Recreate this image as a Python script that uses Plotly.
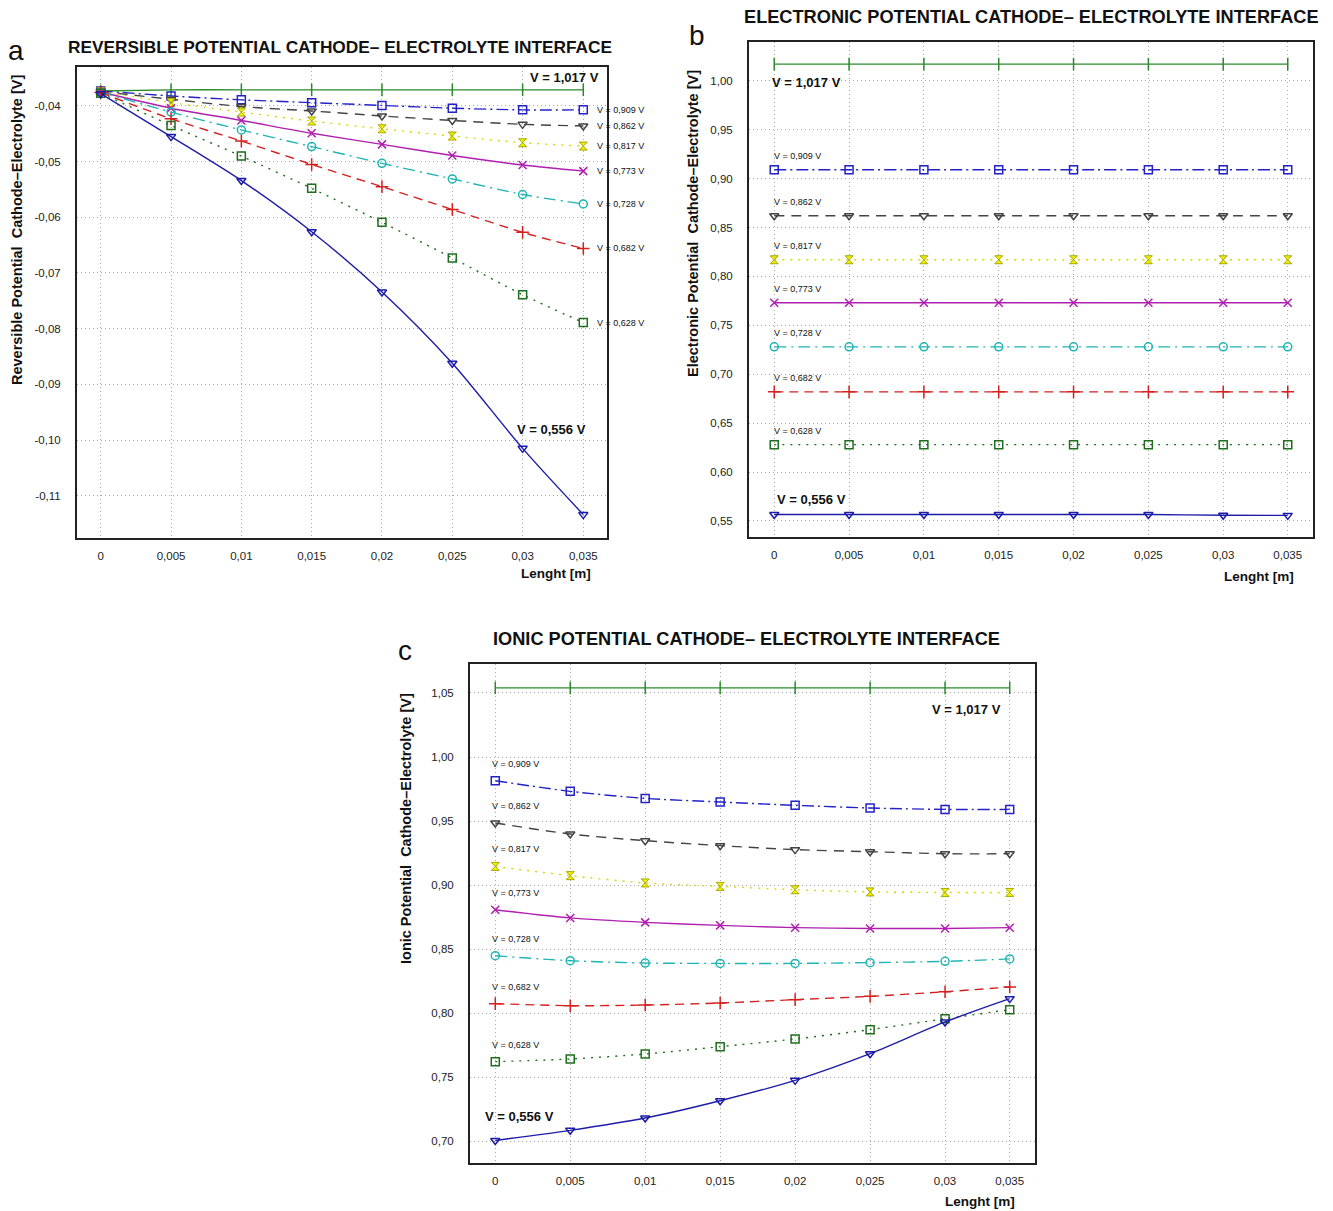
import plotly.graph_objects as go

# ---------------- data ----------------
X = [0, 0.0051, 0.0102, 0.0153, 0.0204, 0.0255, 0.0306, 0.035]
X_TICKTEXT = ["0", "0,005", "0,01", "0,015", "0,02", "0,025", "0,03", "0,035"]

SERIES_V = ["1,017", "0,909", "0,862", "0,817", "0,773", "0,728", "0,682", "0,628", "0,556"]

# (a) reversible potential
rev_1017 = [-0.0373, -0.0371, -0.0371, -0.0371, -0.0371, -0.0371, -0.0371, -0.0371]
rev_0909 = [-0.0373, -0.0382, -0.0389, -0.0394, -0.0399, -0.0404, -0.0407, -0.0407]
rev_0862 = [-0.0374, -0.0388, -0.0401, -0.0409, -0.0418, -0.0426, -0.0433, -0.0436]
rev_0817 = [-0.0374, -0.0394, -0.0411, -0.0427, -0.0441, -0.0454, -0.0466, -0.0472]
rev_0773 = [-0.0375, -0.0404, -0.0426, -0.0449, -0.0469, -0.0489, -0.0506, -0.0517]
rev_0728 = [-0.0375, -0.0411, -0.0443, -0.0473, -0.0503, -0.0531, -0.0559, -0.0576]
rev_0682 = [-0.0376, -0.0423, -0.0463, -0.0505, -0.0545, -0.0586, -0.0627, -0.0656]
rev_0628 = [-0.0377, -0.0435, -0.0490, -0.0548, -0.0609, -0.0673, -0.0739, -0.0789]
rev_0556 = [-0.0378, -0.0455, -0.0534, -0.0626, -0.0734, -0.0862, -0.1015, -0.1134]

# (b) electronic potential
ele_1017 = [1.017] * 8
ele_0909 = [0.909] * 8
ele_0862 = [0.862] * 8
ele_0817 = [0.817] * 8
ele_0773 = [0.773] * 8
ele_0728 = [0.728] * 8
ele_0682 = [0.682] * 8
ele_0628 = [0.628] * 8
ele_0556 = [0.5566, 0.5566, 0.5566, 0.5566, 0.5566, 0.5566, 0.5558, 0.5557]

# (c) ionic potential
ion_1017 = [1.054] * 8
ion_0909 = [0.9815, 0.9732, 0.9677, 0.9649, 0.9623, 0.9602, 0.9591, 0.9591]
ion_0862 = [0.9485, 0.9399, 0.9347, 0.9308, 0.9277, 0.9261, 0.9245, 0.9245]
ion_0817 = [0.9146, 0.9074, 0.9017, 0.8990, 0.8964, 0.8947, 0.8943, 0.8943]
ion_0773 = [0.8808, 0.8744, 0.8709, 0.8686, 0.8668, 0.8662, 0.8662, 0.8668]
ion_0728 = [0.8449, 0.8410, 0.8392, 0.8389, 0.8389, 0.8395, 0.8405, 0.8424]
ion_0682 = [0.8075, 0.8059, 0.8064, 0.8080, 0.8106, 0.8132, 0.8168, 0.8205]
ion_0628 = [0.7622, 0.7643, 0.7682, 0.7739, 0.7799, 0.7872, 0.7957, 0.8028]
ion_0556 = [0.7007, 0.7086, 0.7182, 0.7317, 0.7476, 0.7684, 0.7932, 0.8114]

REV = [rev_1017, rev_0909, rev_0862, rev_0817, rev_0773, rev_0728, rev_0682, rev_0628, rev_0556]
ELE = [ele_1017, ele_0909, ele_0862, ele_0817, ele_0773, ele_0728, ele_0682, ele_0628, ele_0556]
ION = [ion_1017, ion_0909, ion_0862, ion_0817, ion_0773, ion_0728, ion_0682, ion_0628, ion_0556]

Y_A_TICKS = [-0.04, -0.05, -0.06, -0.07, -0.08, -0.09, -0.10, -0.11]
Y_A_TEXT = ["-0,04", "-0,05", "-0,06", "-0,07", "-0,08", "-0,09", "-0,10", "-0,11"]
Y_B_TICKS = [0.55, 0.60, 0.65, 0.70, 0.75, 0.80, 0.85, 0.90, 0.95, 1.00]
Y_B_TEXT = ["0,55", "0,60", "0,65", "0,70", "0,75", "0,80", "0,85", "0,90", "0,95", "1,00"]
Y_C_TICKS = [0.70, 0.75, 0.80, 0.85, 0.90, 0.95, 1.00, 1.05]
Y_C_TEXT = ["0,70", "0,75", "0,80", "0,85", "0,90", "0,95", "1,00", "1,05"]

# ---------------- styles ----------------
STYLES = [
    dict(color="#2b8a2b", dash="solid", symbol="line-ns-open", msize=9),
    dict(color="#2222c8", dash="12px,4px,2px,4px", symbol="square-open", msize=8),
    dict(color="#444444", dash="10px,7px", symbol="triangle-down-open", msize=8),
    dict(color="#d8d800", dash="2px,6px", symbol="hourglass", msize=8),
    dict(color="#b020b0", dash="solid", symbol="x-thin-open", msize=8),
    dict(color="#20b4b4", dash="12px,5px,2px,5px", symbol="circle-open", msize=8),
    dict(color="#d42020", dash="9px,6px", symbol="cross-thin-open", msize=9),
    dict(color="#1e6e1e", dash="2px,6px", symbol="square-open", msize=8),
    dict(color="#1c1ca8", dash="solid", symbol="triangle-down-open", msize=8),
]

OFF = 8  # default page body margin
W, H = 1333 - OFF, 1211 - OFF
FONT = "Liberation Sans, Arial, sans-serif"

def px(x):
    return (x - OFF) / W

def py(y):
    return 1 - (y - OFF) / H

fig = go.Figure()

panels = [
    ("x", "y", REV),
    ("x2", "y2", ELE),
    ("x3", "y3", ION),
]

for xa, ya, data in panels:
    for i, (vals, st) in enumerate(zip(data, STYLES)):
        mk = dict(symbol=st["symbol"], size=st["msize"], color=st["color"],
                  line=dict(color=st["color"], width=1.5))
        if st["symbol"] == "hourglass":
            mk = dict(symbol="hourglass", size=8, color="#f0f000",
                      line=dict(color="#a8a800", width=1))
        fig.add_trace(go.Scatter(
            x=X, y=vals, xaxis=xa, yaxis=ya, mode="lines+markers",
            line=dict(color=st["color"], dash=st["dash"], width=1.4,
                      shape="spline", smoothing=0.8),
            marker=mk, showlegend=False, hoverinfo="skip",
        ))

XR = [-0.00172, 0.03672]
GRID = dict(showgrid=True, gridcolor="#a8a8a8", griddash="1px,3px", gridwidth=1)

def xaxis(domain, anchor):
    return dict(domain=domain, anchor=anchor, range=XR,
                tickvals=X, ticktext=X_TICKTEXT, **GRID,
                showline=True, linecolor="#222", linewidth=2, mirror=True,
                ticks="", zeroline=False, ticklabelstandoff=6,
                tickfont=dict(family=FONT, size=11.5, color="#222"))

def yaxis(domain, anchor, rng, tv, tt):
    return dict(domain=domain, anchor=anchor, range=rng,
                tickvals=tv, ticktext=tt, **GRID,
                showline=True, linecolor="#222", linewidth=2, mirror=True,
                ticks="", zeroline=False, ticklabelstandoff=12,
                tickfont=dict(family=FONT, size=11.5, color="#222"))

fig.update_layout(
    width=W, height=H, margin=dict(l=0, r=0, t=0, b=0),
    paper_bgcolor="white", plot_bgcolor="white",
    xaxis=xaxis([px(77), px(607)], "y"),
    yaxis=yaxis([py(538), py(67)], "x", [-0.1176, -0.0330], Y_A_TICKS, Y_A_TEXT),
    xaxis2=xaxis([px(749), px(1313)], "y2"),
    yaxis2=yaxis([py(537), py(42)], "x2", [0.5336, 1.0396], Y_B_TICKS, Y_B_TEXT),
    xaxis3=xaxis([px(470), px(1035)], "y3"),
    yaxis3=yaxis([py(1163), py(664)], "x3", [0.6831, 1.0726], Y_C_TICKS, Y_C_TEXT),
)

ann = []

def paper_text(x, y, text, size, bold=True, angle=0, xanchor="center", color="#111"):
    t = f"<b>{text}</b>" if bold else text
    ann.append(dict(xref="paper", yref="paper", x=px(x), y=py(y), text=t,
                    showarrow=False, xanchor=xanchor, yanchor="middle",
                    textangle=angle, font=dict(family=FONT, size=size, color=color)))

# titles
paper_text(340, 47, "REVERSIBLE POTENTIAL CATHODE\u2013 ELECTROLYTE INTERFACE", 17.3)
paper_text(1031, 17, "ELECTRONIC POTENTIAL CATHODE\u2013 ELECTROLYTE INTERFACE", 18.2)
paper_text(746, 639, "IONIC POTENTIAL CATHODE\u2013 ELECTROLYTE INTERFACE", 18.2)
# panel letters
paper_text(16, 50, "a", 28, bold=False)
paper_text(697, 35, "b", 28, bold=False)
paper_text(405, 650, "c", 28, bold=False)
# y-axis titles
paper_text(17, 230, "Reversible Potential  Cathode\u2013Electrolyte [V]", 14.5, angle=-90)
paper_text(693, 224, "Electronic Potential  Cathode\u2013Electrolyte [V]", 14.5, angle=-90)
paper_text(406, 828, "Ionic Potential  Cathode\u2013Electrolyte [V]", 14.5, angle=-90)
# x-axis titles
paper_text(556, 573, "Lenght [m]", 13.5)
paper_text(1259, 576, "Lenght [m]", 13.5)
paper_text(980, 1201, "Lenght [m]", 13.5)

def data_text(xa, ya, x, y, text, size, bold, xanchor="left", xshift=0, yshift=0):
    t = f"<b>{text}</b>" if bold else text
    ann.append(dict(xref=xa, yref=ya, x=x, y=y, text=t, showarrow=False,
                    xanchor=xanchor, yanchor="middle", xshift=xshift, yshift=yshift,
                    font=dict(family=FONT, size=size, color="#111")))

# panel a labels
data_text("x", "y", X[-1], REV[0][-1], f"V = {SERIES_V[0]} V", 13, True, xanchor="right", xshift=18, yshift=12)
for i in range(1, 8):
    data_text("x", "y", X[-1], REV[i][-1], f"V = {SERIES_V[i]} V", 9, False, xshift=12)
data_text("x", "y", X[6], REV[8][6], f"V = {SERIES_V[8]} V", 13, True, xshift=-8, yshift=19)

# panel b labels
data_text("x2", "y2", X[0], ELE[0][0], f"V = {SERIES_V[0]} V", 13, True, xshift=-4, yshift=-18)
for i in range(1, 8):
    data_text("x2", "y2", X[0], ELE[i][0], f"V = {SERIES_V[i]} V", 9, False, xshift=-2, yshift=14)
data_text("x2", "y2", X[0], ELE[8][0], f"V = {SERIES_V[8]} V", 13, True, xshift=1, yshift=15)

# panel c labels
data_text("x3", "y3", X[-1], ION[0][0], f"V = {SERIES_V[0]} V", 13, True, xanchor="right", xshift=-7, yshift=-22)
for i in range(1, 8):
    data_text("x3", "y3", X[0], ION[i][0], f"V = {SERIES_V[i]} V", 9, False, xshift=-5, yshift=17)
data_text("x3", "y3", X[0], ION[8][0], f"V = {SERIES_V[8]} V", 13, True, xshift=-12, yshift=24)

fig.update_layout(annotations=ann)

fig.write_html("out.html")
